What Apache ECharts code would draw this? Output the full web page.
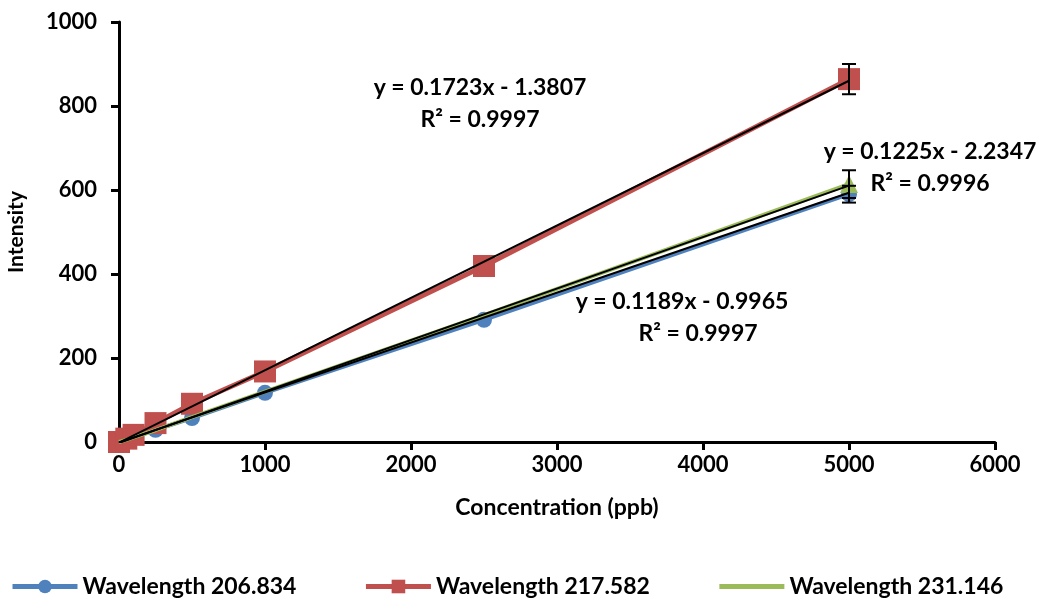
<!DOCTYPE html>
<html>
<head>
<meta charset="utf-8">
<script src="https://cdn.jsdelivr.net/npm/echarts@6/dist/echarts.min.js"></script>
<style>html,body{margin:0;padding:0;background:#fff}#c{width:1043px;height:599px}</style>
</head>
<body>
<div id="c"></div>
<script>
const concentrations = [0, 50, 100, 250, 500, 1000, 2500, 5000];
const wl206 = [0, 5, 11, 29, 57, 117, 291, 590];
const wl217 = [0, 8, 17, 45, 91, 168, 419, 864];
const wl231 = [0, 5, 11, 28, 59, 120, 302, 614];
const errX = [5000, 5000, 5000];
const errVal = [590, 864, 614];
const errAmt = [20, 36, 33];
const trendX = [0, 5000];
const trend217 = [-1.38, 860.1];
const trend206 = [-1.0, 593.5];
const trend231 = [-2.23, 610.3];
const xTicks = [0, 1000, 2000, 3000, 4000, 5000, 6000];
const yTicks = [0, 200, 400, 600, 800, 1000];
const seriesNames = ['Wavelength 206.834', 'Wavelength 217.582', 'Wavelength 231.146'];
const colors = ['#4F81BD', '#C0504D', '#9BBB59'];

const FONT = 'Lato, "Open Sans", sans-serif';
const pairs = (xs, ys) => xs.map((x, i) => [x, ys[i]]);

const chart = echarts.init(document.getElementById('c'));
const lab = {fontFamily: FONT, fontWeight: 'bold', fontSize: 22, color: '#000'};

const greenData = pairs(concentrations, wl231).map((p, i) =>
  i === concentrations.length - 1 ? {value: p, symbol: 'triangle', symbolSize: 18} : {value: p});

const errData = errX.map((x, i) => [x, errVal[i] - errAmt[i], errVal[i] + errAmt[i]]);
const annFont = 'bold 23px ' + FONT;
const ann = (text, x, y) => ({type: 'text', x: x, y: y, z: 100,
  style: {text: text, align: 'center', verticalAlign: 'middle', font: annFont, fill: '#000'}});

chart.setOption({
  animation: false,
  grid: {left: 119, right: 48, top: 22, bottom: 157, containLabel: false, outerBoundsMode: 'none'},
  xAxis: {
    type: 'value', min: 0, max: 6000, interval: 1000,
    name: 'Concentration (ppb)', nameLocation: 'middle', nameGap: 54,
    nameTextStyle: Object.assign({}, lab, {fontSize: 23}),
    axisLine: {lineStyle: {color: '#000', width: 3}},
    axisTick: {show: true, length: 8, lineStyle: {color: '#000', width: 3}},
    axisLabel: Object.assign({}, lab, {margin: 12, formatter: v => String(v)}),
    splitLine: {show: false}
  },
  yAxis: {
    type: 'value', min: 0, max: 1000, interval: 200,
    name: 'Intensity', nameLocation: 'middle', nameGap: 92, nameRotate: 90,
    nameTextStyle: Object.assign({}, lab, {fontSize: 21}),
    axisLine: {show: true, lineStyle: {color: '#000', width: 3}},
    axisTick: {show: true, length: 8, lineStyle: {color: '#000', width: 3}},
    axisLabel: Object.assign({}, lab, {margin: 22, formatter: v => String(v)}),
    splitLine: {show: false}
  },
  legend: {
    bottom: 1, left: 10, padding: 0, itemGap: 67, itemWidth: 65, itemHeight: 17,
    lineStyle: {width: 5},
    textStyle: Object.assign({}, lab, {fontSize: 23}),
    data: [
      {name: seriesNames[0]},
      {name: seriesNames[1]},
      {name: seriesNames[2], itemStyle: {opacity: 0}}
    ]
  },
  series: [
    {name: seriesNames[0], type: 'line', data: pairs(concentrations, wl206), color: colors[0],
     symbol: 'circle', symbolSize: 16, lineStyle: {width: 4}, z: 2},
    {name: seriesNames[1], type: 'line', data: pairs(concentrations, wl217), color: colors[1],
     symbol: 'rect', symbolSize: 22, lineStyle: {width: 5}, z: 3},
    {name: seriesNames[2], type: 'line', data: greenData, color: colors[2], symbol: 'none',
     lineStyle: {width: 4}, z: 4},
    {type: 'line', data: pairs(trendX, trend217), symbol: 'none', color: '#000', lineStyle: {width: 2}, z: 6, silent: true},
    {type: 'line', data: pairs(trendX, trend206), symbol: 'none', color: '#000', lineStyle: {width: 2}, z: 6, silent: true},
    {type: 'line', data: pairs(trendX, trend231), symbol: 'none', color: '#000', lineStyle: {width: 2}, z: 6, silent: true},
    {type: 'custom', z: 7, silent: true, data: errData,
     renderItem: function (params, api) {
       const x = api.value(0);
       const lo = api.coord([x, api.value(1)]);
       const hi = api.coord([x, api.value(2)]);
       const w = 7;
       const st = {stroke: '#000', lineWidth: 2};
       return {type: 'group', children: [
         {type: 'line', shape: {x1: lo[0], y1: lo[1], x2: hi[0], y2: hi[1]}, style: st},
         {type: 'line', shape: {x1: lo[0] - w, y1: lo[1], x2: lo[0] + w, y2: lo[1]}, style: st},
         {type: 'line', shape: {x1: hi[0] - w, y1: hi[1], x2: hi[0] + w, y2: hi[1]}, style: st}
       ]};
     }}
  ],
  graphic: [
    ann('y = 0.1723x - 1.3807', 480, 88),
    ann('R² = 0.9997', 480, 120),
    ann('y = 0.1225x - 2.2347', 930, 152),
    ann('R² = 0.9996', 930, 184),
    ann('y = 0.1189x - 0.9965', 682, 302),
    ann('R² = 0.9997', 698, 334)
  ]
});
</script>
</body>
</html>
